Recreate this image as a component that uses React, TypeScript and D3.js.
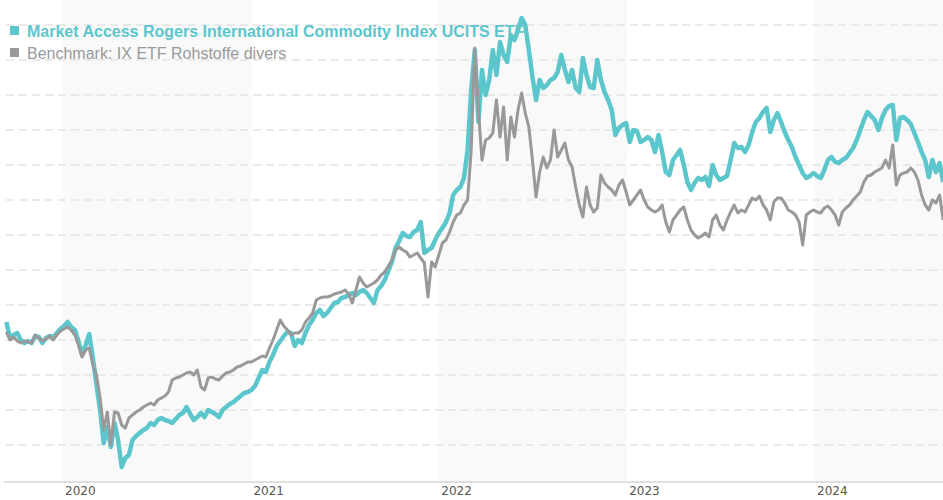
import * as d3 from "d3";

// weekly closes, rebased chart units (first week 2019-09-13)
const fundValues = [
  35.6, 32.4, 33, 33.4, 32, 31.4, 31.8, 31.4, 32.8, 32.6,
  31.4, 32.4, 32.8, 32.6, 33.4, 34.2, 34.8, 35.6, 34.6, 34,
  31.8, 29, 31, 33.2, 28.4, 23, 18, 11.4, 14.6, 10.6,
  15.4, 12, 6.6, 8.4, 9, 12, 12.8, 13.4, 14, 14.4,
  15.4, 15, 16, 16.4, 16, 15.8, 15.4, 16.2, 17, 17.4,
  18.6, 17.2, 16, 16.6, 17.4, 16.6, 18, 17.6, 17.2, 16.6,
  18, 18.6, 19.2, 19.6, 20.2, 20.8, 21.4, 21.6, 22, 22.8,
  24.4, 26, 25.6, 27.6, 29, 30.8, 31.8, 32.8, 33.6, 33.4,
  30.8, 32, 31.4, 33.4, 35, 36, 37.4, 38, 36.8, 37.4,
  38.4, 39.4, 39.6, 40.4, 40.6, 41, 41.4, 41, 41.6, 42,
  41.4, 40.4, 39.4, 42, 42.8, 44, 45.8, 47.6, 50.4, 51.8,
  53.4, 52.8, 52.6, 53.6, 54, 55.6, 49.4, 50, 50.4, 52,
  53.4, 54.4, 55.6, 57.4, 61, 62, 62.6, 64.4, 70, 82,
  90, 75.6, 86, 81, 84, 90, 85, 91.6, 89, 87.6,
  93, 92, 94, 96.4, 95, 90, 84.6, 80, 84, 82.4,
  83, 84, 84.4, 85.6, 89, 86, 83.6, 86, 82.4, 81.6,
  88.4, 85, 82.6, 82.4, 88, 84, 81.6, 80, 78, 73,
  74.4, 75, 75.4, 71.6, 74, 73.8, 71.6, 72, 72.6, 72,
  69.6, 73, 69.6, 65.6, 65, 68, 69, 70, 67, 63.6,
  62, 63.4, 64.4, 64, 64.6, 62.8, 67, 65, 64, 64.4,
  64.8, 68, 71.4, 70.4, 70.6, 69.6, 71, 73.6, 75.6, 76.4,
  77.6, 78.4, 73.6, 76, 77.4, 75.6, 73.6, 72, 70.6, 68.6,
  67, 65.4, 64.4, 64.8, 65.4, 64.8, 64.4, 66, 68, 68.6,
  67.6, 67.4, 68, 68.4, 69.4, 70.4, 72, 74, 76, 77.6,
  76.8, 76, 74, 76.4, 78, 78.8, 79, 72, 76.4, 76.6,
  76, 75.2, 73.4, 71.6, 69.6, 68, 64.6, 68, 65.6, 67.4,
  63.6,
];

const benchValues = [
  33.6, 32, 32.6, 31.8, 31.4, 31.8, 31.6, 31.4, 33, 32.4,
  31.8, 32.2, 32.8, 32, 33, 33.8, 34.2, 34.6, 34, 33,
  31, 28.6, 30, 30.4, 27, 25, 20.4, 14, 17.6, 11,
  17.6, 17.4, 15, 14.4, 16.4, 17, 17.6, 18, 18.6, 19,
  19.4, 19, 20, 20.4, 20.8, 21.6, 24, 24.4, 24.6, 25,
  25.4, 25.6, 25, 26, 22.6, 22, 24.4, 24.6, 24.2, 24,
  24.8, 25.4, 25.6, 26, 26.6, 26.8, 27.2, 27.6, 27.6, 28,
  28.4, 28.8, 28.6, 30.4, 32, 34, 36, 34.8, 34, 33,
  33.4, 33.4, 34, 35.6, 36.4, 37.4, 40, 40.4, 40.6, 40.6,
  40.8, 41.2, 41.4, 41.6, 42, 41.2, 39.4, 42, 44.6, 43.4,
  42.6, 43, 43.4, 44, 45, 45.6, 46.8, 48, 50, 50.6,
  50, 49.6, 48.6, 49, 49.4, 48.4, 47.4, 40.6, 47.6, 46.6,
  49, 51.4, 52, 53.6, 55.6, 57, 57.4, 59, 60, 70,
  90.4, 78, 68, 72, 72.4, 73.4, 80, 72.6, 78.6, 68,
  76.6, 72.6, 78, 81.4, 77.4, 74.6, 68, 60.6, 65.6, 68.6,
  66.4, 68, 74, 68.6, 70, 71.4, 68, 66.6, 62.6, 59,
  56.6, 62.6, 59, 57.6, 58.4, 65, 63.4, 62.6, 62, 61,
  63, 64, 61.6, 59, 60, 61, 62, 60, 58.6, 58,
  57.6, 58, 59, 55.6, 53.6, 56, 57, 58, 58.6, 56,
  54, 53, 52.4, 52.8, 53.4, 52.6, 56, 57, 55, 54,
  56, 57.6, 59, 57.4, 58, 57.6, 59, 60.4, 60, 60.8,
  59, 58, 56, 59.6, 60.4, 60.4, 59.4, 58, 57.6, 57,
  55.6, 51, 57, 57.6, 58, 57.6, 57.4, 58.4, 58.8, 58,
  57, 55, 57.6, 58.4, 59, 60, 60.8, 61.6, 63.6, 64.8,
  65, 65.6, 66, 66.4, 68, 66.4, 71, 63, 65, 65.4,
  65.6, 66.4, 65.6, 64, 61, 59, 58, 60, 59.4, 61,
  56,
];

const firstWeek = new Date(2019, 8, 13);
const dates = fundValues.map((_, i) => d3.timeDay.offset(firstWeek, 7 * i));

const yearTicks = [2020, 2021, 2022, 2023, 2024];
const gridValues = d3.range(11, 96, 7);

const fundName = "Market Access Rogers International Commodity Index UCITS ETF";
const benchName = "Benchmark: IX ETF Rohstoffe divers";

const W = 943;
const H = 500;
const left = 6;
const bottom = 482;
const teal = "#5cc6cd";
const grey = "#999999";

export default function App() {
  const x = d3
    .scaleTime()
    .domain([dates[0], dates[dates.length - 1]])
    .range([left + 0.4, W + 0.2]);
  const y = d3.scaleLinear().domain([3.6, 100]).range([bottom, 0]);

  const line = d3
    .line<number>()
    .x((_, i) => x(dates[i]))
    .y((d) => y(d));

  const yearStart = (yr: number) => x(new Date(yr, 0, 1));

  return (
    <div style={{ position: "absolute", left: 0, top: 0 }}>
      <svg width={W} height={H} style={{ display: "block", background: "#fff" }}>
        {/* alternating year bands */}
        {[2020, 2022, 2024].map((yr) => {
          const x0 = yearStart(yr);
          const x1 = Math.min(W, yearStart(yr + 1));
          return <rect key={yr} x={x0} y={0} width={x1 - x0} height={bottom} fill="#f9f9f9" />;
        })}

        {/* grid */}
        {gridValues.map((v) => (
          <line
            key={v}
            x1={left}
            x2={W}
            y1={y(v)}
            y2={y(v)}
            stroke="#e3e3e3"
            strokeWidth={1.5}
            strokeDasharray="8,5"
          />
        ))}

        {/* x axis */}
        <line x1={4} x2={W} y1={bottom} y2={bottom} stroke="#e0e0e0" strokeWidth={2} />
        {yearTicks.map((yr) => (
          <text
            key={yr}
            x={yearStart(yr) + 2}
            y={495}
            fontSize={12}
            fontFamily="DejaVu Sans, sans-serif"
            fill="#555"
          >
            {yr}
          </text>
        ))}

        {/* legend */}
        <g fontFamily="Liberation Sans, Arial, sans-serif" fontSize={16}>
          <rect x={10} y={26} width={9} height={9} fill={teal} />
          <text x={27} y={37} fill={teal} fontWeight="bold">
            {fundName}
          </text>
          <rect x={10} y={48} width={9} height={9} fill={grey} />
          <text x={27} y={59} fill={grey}>
            {benchName}
          </text>
        </g>

        {/* series */}
        <path d={line(fundValues) ?? ""} fill="none" stroke={teal} strokeWidth={4.5} strokeLinejoin="round" />
        <path d={line(benchValues) ?? ""} fill="none" stroke={grey} strokeWidth={3} strokeLinejoin="round" />
      </svg>
    </div>
  );
}
